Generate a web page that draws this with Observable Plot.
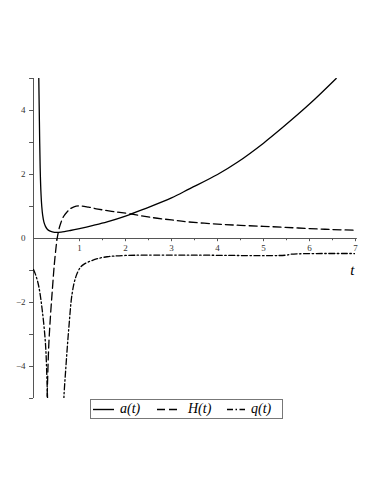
<!DOCTYPE html>
<html><head><meta charset="utf-8">
<script src="https://cdn.jsdelivr.net/npm/d3@7"></script>
<script src="https://cdn.jsdelivr.net/npm/@observablehq/plot@0.6"></script>
<style>
body{margin:0;background:#fff;width:384px;height:497px;overflow:hidden}
#legend{position:relative;margin-left:90px;width:191px;height:18px;border:1px solid #777;margin-top:-1px;font-family:"Liberation Serif","Times New Roman",serif;font-style:italic;font-size:14px;color:#000}
#legend svg{position:absolute;top:8px}
#legend span{position:absolute;top:0px;line-height:18px}
</style>
</head><body><div id="chart"></div>
<div id="legend">
<svg style="left:2px" width="21" height="3"><line x1="0" y1="1.5" x2="21" y2="1.5" stroke="#000" stroke-width="1.4"/></svg><span style="left:29px">a(t)</span>
<svg style="left:66px" width="21" height="3"><line x1="0" y1="1.5" x2="21" y2="1.5" stroke="#000" stroke-width="1.4" stroke-dasharray="8,4"/></svg><span style="left:97px">H(t)</span>
<svg style="left:136px" width="18" height="3"><line x1="0" y1="1.5" x2="18" y2="1.5" stroke="#000" stroke-width="1.4" stroke-dasharray="6,2.5,1.5,2.5"/></svg><span style="left:160px">q(t)</span>
</div>
<script>
// a(t)
const aT = [0.11,0.115,0.125,0.135,0.145,0.16,0.18,0.2,0.225,0.26,0.3,0.35,0.41,0.5,0.6,0.8,1.0,1.3,1.6,2.0,2.4,3.0,3.4,4.0,4.44,5.0,5.4,6.0,6.58];
const aV = [5.6,5.0,4.0,3.0,2.2,1.5,1.0,0.72,0.52,0.38,0.29,0.24,0.21,0.19,0.2,0.25,0.31,0.41,0.52,0.70,0.92,1.27,1.56,2.0,2.39,2.98,3.45,4.2,5.0];
// H(t)
const hT = [0.29,0.33,0.37,0.41,0.45,0.5,0.52,0.56,0.59,0.65,0.73,0.8,0.88,1.0,1.2,1.4,1.7,2.1,2.6,3.0,3.35,4.0,4.5,5.0,5.45,6.0,6.5,7.0];
const hV = [-5.3,-3.4,-2.4,-1.6,-0.85,-0.15,0.05,0.33,0.47,0.68,0.83,0.93,0.99,1.02,0.98,0.92,0.85,0.77,0.65,0.58,0.52,0.45,0.41,0.38,0.35,0.31,0.28,0.26];
// q(t), two branches
const qLT = [0,0.05,0.115,0.19,0.26,0.29,0.305,0.31];
const qLV = [-0.97,-1.15,-1.5,-2.24,-3.28,-4.3,-5.0,-5.5];
const qRT = [0.655,0.66,0.70,0.77,0.84,0.92,1.02,1.1,1.25,1.39,1.6,1.75,2.0,2.4,3.5,5.5,5.6,7.0];
const qRV = [-5.5,-5.0,-4.1,-2.76,-1.72,-1.2,-0.9,-0.8,-0.7,-0.63,-0.57,-0.55,-0.53,-0.52,-0.52,-0.52,-0.49,-0.47];
// ticks
const xLabels = [1,2,3,4,5,6,7];
const xMinor = [0.5,1.5,2.5,3.5,4.5,5.5,6.5];
const yTicks = [-5,-4,-3,-2,-1,1,2,3,4,5];
const yLabels = [-4,-2,0,2,4];
const xAxisLabel = ["t"];

const pts = (T,V) => T.map((t,i)=>({t, v:V[i]}));
const A = pts(aT,aV), H = pts(hT,hV), QL = pts(qLT,qLV), QR = pts(qRT,qRV);
const axisColor = "#555";
const lw = 1.3;
const serif = "Liberation Serif";

const chart = Plot.plot({
  width: 384, height: 400,
  marginLeft: 33, marginRight: 29, marginTop: 78, marginBottom: 2,
  x: {domain: [0,7], axis: null},
  y: {domain: [-5,5], axis: null},
  style: {fontFamily: serif, background: "#fff"},
  marks: [
    Plot.ruleY([0], {x1: 0, x2: 7.04, stroke: axisColor, strokeWidth: 1}),
    Plot.ruleX([0], {y1: -5, y2: 5, stroke: axisColor, strokeWidth: 1}),
    Plot.ruleX(xLabels, {x: d=>d, y1: 0, y2: -0.1, stroke: axisColor}),
    Plot.ruleX(xMinor, {x: d=>d, y1: 0, y2: -0.07, stroke: axisColor}),
    Plot.ruleY(yTicks, {y: d=>d, x1: 0, x2: -0.085, stroke: axisColor}),
    Plot.text(xLabels, {x: d=>d, y: 0, dy: 10, text: d=>String(d), fontSize: 9, fontFamily: serif, fill: "#333"}),
    Plot.text(yLabels, {x: 0, y: d=>d, dx: -8, textAnchor: "end", text: d=>d<0?"\u2212"+(-d):String(d), fontSize: 9, fontFamily: serif, fill: "#333"}),
    Plot.text(xAxisLabel, {x: 6.93, y: -1, text: d=>d, fontSize: 15, fontStyle: "italic", fontFamily: serif, fill: "#000"}),
    Plot.line(A, {x: "t", y: "v", stroke: "#000", strokeWidth: lw, curve: "catmull-rom", clip: true}),
    Plot.line(H, {x: "t", y: "v", stroke: "#000", strokeWidth: lw, strokeDasharray: "8,4", curve: "catmull-rom", clip: true}),
    Plot.line(QL, {x: "t", y: "v", stroke: "#000", strokeWidth: lw, strokeDasharray: "6,2.5,1.5,2.5", curve: "catmull-rom", clip: true}),
    Plot.line(QR, {x: "t", y: "v", stroke: "#000", strokeWidth: lw, strokeDasharray: "6,2.5,1.5,2.5", curve: "catmull-rom", clip: true})
  ]
});
document.getElementById("chart").appendChild(chart);
</script></body></html>
